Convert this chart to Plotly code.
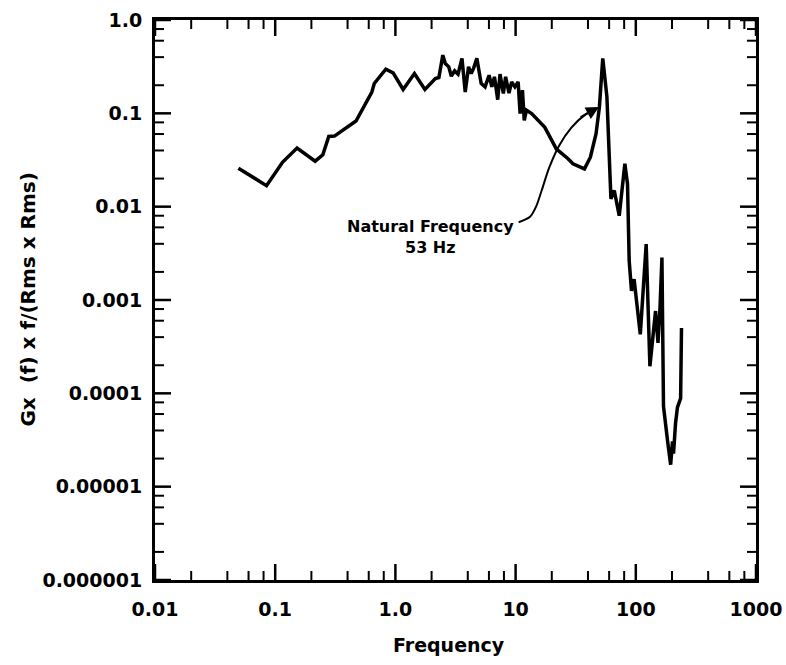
import numpy as np
import plotly.graph_objects as go

# Normalised spectrum Gx(f)*f/(Rms*Rms) versus frequency (Hz)
freq = [0.0494, 0.0847, 0.115, 0.152, 0.215, 0.249, 0.279, 0.311, 0.470, 0.637,
        0.667, 0.832, 0.957, 1.16, 1.44, 1.76, 2.15, 2.30, 2.48, 2.60,
        2.78, 2.92, 3.11, 3.32, 3.58, 3.81, 4.06, 4.27, 4.47, 4.76,
        5.17, 5.57, 6.02, 6.34, 6.67, 7.10, 7.42, 7.91, 8.26, 8.81,
        9.27, 9.87, 10.5, 10.9, 11.4, 11.8, 12.3, 13.6, 17.5, 21.8,
        27.3, 30.0, 37.4, 41.9, 46.7, 49.8, 53.1, 57.5, 62.1, 66.2,
        72.8, 81.1, 85.3, 88.1, 92.1, 96.8, 109, 122, 131, 146,
        153, 159, 165, 170, 184, 195, 202, 206, 214, 222,
        236, 240]
gx = [0.0258, 0.0168, 0.0299, 0.0424, 0.0307, 0.0360, 0.0566, 0.0570, 0.0827, 0.169,
      0.209, 0.297, 0.271, 0.180, 0.267, 0.180, 0.236, 0.242, 0.420, 0.342,
      0.315, 0.250, 0.285, 0.263, 0.388, 0.169, 0.315, 0.267, 0.303, 0.388,
      0.209, 0.192, 0.256, 0.192, 0.246, 0.140, 0.263, 0.163, 0.246, 0.165,
      0.217, 0.192, 0.217, 0.0993, 0.177, 0.0841, 0.108, 0.0993, 0.0707, 0.0417,
      0.0326, 0.0288, 0.0254, 0.0339, 0.0605, 0.117, 0.388, 0.150, 0.0121, 0.0149,
      0.0080, 0.0288, 0.0175, 0.00263, 0.00125, 0.00167, 0.000428, 0.00397, 0.000195, 0.000762,
      0.000347, 0.000826, 0.00285, 0.0000724, 0.0000305, 0.0000172, 0.0000305, 0.0000226, 0.0000475, 0.0000707,
      0.0000883, 0.0005]

# Leader line from the label to the resonance peak
leader_f = [10.6, 13.2, 14.8, 16.5, 19.0, 23.0, 29.0, 38.0, 47.0]
leader_g = [0.0068, 0.0078, 0.0100, 0.0150, 0.0260, 0.045, 0.070, 0.097, 0.112]

x_ticks = [0.01, 0.1, 1, 10, 100, 1000]
x_tick_text = ["0.01", "0.1", "1.0", "10", "100", "1000"]
y_ticks = [1, 0.1, 0.01, 0.001, 0.0001, 0.00001, 0.000001]
y_tick_text = ["1.0", "0.1", "0.01", "0.001", "0.0001", "0.00001", "0.000001"]

minor_x = [m * 10.0 ** d for d in range(-2, 3) for m in (2, 4, 6, 8)]
minor_y = [m * 10.0 ** d for d in range(-6, 0) for m in (2, 4, 6, 8)]

FONT = "DejaVu Sans"
INK = "black"
CLEAR = "rgba(0,0,0,0)"
X_RANGE = [-2, 3]
Y_RANGE = [-6, 0]
MAJOR_LEN, MINOR_LEN = 16, 9

fig = go.Figure()
fig.add_trace(go.Scatter(x=freq, y=gx, mode="lines",
                         line=dict(color=INK, width=3.5), hoverinfo="skip"))
fig.add_trace(go.Scatter(x=leader_f, y=leader_g, mode="lines",
                         line=dict(color=INK, width=2, shape="spline", smoothing=0.8),
                         hoverinfo="skip"))

tick_font = dict(family=FONT, size=19, color=INK, weight="bold")
plain = dict(showgrid=False, zeroline=False, automargin=False, type="log")

fig.update_layout(
    # frame with tick labels, pushed out from the frame by clear outside ticks
    xaxis=dict(
        **plain, range=X_RANGE, showline=True, linecolor=INK, linewidth=3, mirror=True,
        ticks="outside", ticklen=10, tickcolor=CLEAR,
        tickvals=x_ticks, ticktext=x_tick_text, tickfont=tick_font,
    ),
    yaxis=dict(
        **plain, range=Y_RANGE, showline=True, linecolor=INK, linewidth=3, mirror=True,
        ticks="outside", ticklen=6, tickcolor=CLEAR,
        tickvals=y_ticks, ticktext=y_tick_text, tickfont=tick_font,
    ),
)


def frac(value, rng):
    """Position of a value along a log axis, as a fraction of the plot area."""
    return (np.log10(value) - rng[0]) / (rng[1] - rng[0])


# inward tick marks on all four sides of the frame
for vals, length, width in ((x_ticks, MAJOR_LEN, 2.5), (minor_x, MINOR_LEN, 2)):
    for v in vals:
        p = frac(v, X_RANGE)
        for anchor, sign in ((0, 1), (1, -1)):
            fig.add_shape(type="line", xref="paper", yref="paper", ysizemode="pixel",
                          yanchor=anchor, x0=p, x1=p, y0=0, y1=sign * length,
                          line=dict(color=INK, width=width))
for vals, length, width in ((y_ticks, MAJOR_LEN, 2.5), (minor_y, MINOR_LEN, 2)):
    for v in vals:
        p = frac(v, Y_RANGE)
        for anchor, sign in ((0, 1), (1, -1)):
            fig.add_shape(type="line", xref="paper", yref="paper", xsizemode="pixel",
                          xanchor=anchor, y0=p, y1=p, x0=0, x1=sign * length,
                          line=dict(color=INK, width=width))

fig.add_annotation(
    x=np.log10(49.5), y=np.log10(0.117), xref="x", yref="y",
    ax=-20, ay=11, axref="pixel", ayref="pixel",
    text="", showarrow=True, arrowhead=2, arrowsize=1.3, arrowwidth=2, arrowcolor=INK,
)
fig.add_annotation(
    x=np.log10(1.95), y=np.log10(0.0047), xref="x", yref="y",
    text="Natural Frequency<br>53 Hz", showarrow=False, align="center",
    font=dict(family=FONT, size=16, color=INK, weight="bold"),
)
fig.add_annotation(
    x=-0.212, y=0.50, xref="paper", yref="paper", xanchor="center", yanchor="middle",
    text="Gx  (f) x f/(Rms x Rms)", textangle=-90, showarrow=False,
    font=dict(family=FONT, size=20, color=INK, weight="bold"),
)
fig.add_annotation(
    x=0.49, y=-0.116, xref="paper", yref="paper", xanchor="center", yanchor="middle",
    text="Frequency", showarrow=False,
    font=dict(family=FONT, size=19, color=INK, weight="bold"),
)

fig.update_layout(
    width=786, height=665,
    margin=dict(l=155, r=30, t=20, b=85),
    paper_bgcolor="white", plot_bgcolor="white",
    showlegend=False,
)

fig.write_html("out.html")
